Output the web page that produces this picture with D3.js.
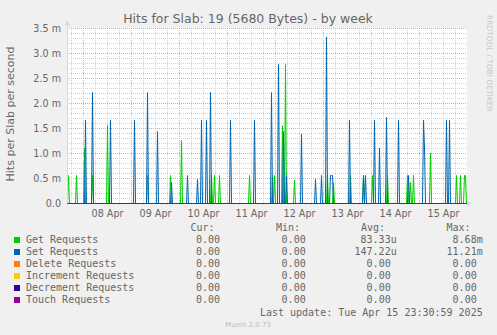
<!DOCTYPE html>
<html>
<head>
<meta charset="utf-8">
<script src="https://cdn.jsdelivr.net/npm/d3@7"></script>
<style>
  body { margin: 0; background: #F0F0F0; }
  svg { display: block; }
</style>
</head>
<body>
<div id="chart"></div>
<script>
// Canvas size
var svgWidth = 497;
var svgHeight = 335;

// plot area (munin/rrdtool layout)
var plot = { left: 67, right: 467, top: 28, bottom: 203 };

// Spikes: [time, value in m (milli) hits/s]
var getSpikes = [
  ["2025-04-07 16:30", 0.56], ["2025-04-07 20:30", 0.56], ["2025-04-08 00:30", 1.11],
  ["2025-04-08 04:30", 0.56], ["2025-04-08 12:00", 1.56], ["2025-04-09 08:00", 0.56],
  ["2025-04-09 19:30", 0.56], ["2025-04-10 01:00", 1.26], ["2025-04-10 16:00", 0.56],
  ["2025-04-10 17:30", 0.56], ["2025-04-10 20:00", 0.56], ["2025-04-11 11:00", 0.56],
  ["2025-04-11 22:30", 0.56], ["2025-04-11 23:30", 0.56], ["2025-04-12 03:30", 1.56],
  ["2025-04-12 05:00", 2.78], ["2025-04-12 09:30", 0.47], ["2025-04-13 02:00", 0.56],
  ["2025-04-13 05:00", 0.42], ["2025-04-13 13:30", 0.56], ["2025-04-13 20:00", 0.56],
  ["2025-04-14 00:30", 0.56], ["2025-04-14 08:00", 0.56], ["2025-04-14 18:00", 0.56],
  ["2025-04-14 19:30", 0.42], ["2025-04-14 21:00", 0.56], ["2025-04-15 05:30", 1.01],
  ["2025-04-15 18:30", 0.56], ["2025-04-15 20:30", 0.56], ["2025-04-15 22:30", 0.56],
  ["2025-04-15 23:00", 0.56]
];

var setSpikes = [
  ["2025-04-08 01:00", 1.67], ["2025-04-08 04:30", 2.22], ["2025-04-08 13:30", 1.67],
  ["2025-04-09 01:30", 1.67], ["2025-04-09 08:00", 2.22], ["2025-04-09 13:00", 1.44],
  ["2025-04-09 20:00", 0.42], ["2025-04-10 04:00", 0.56], ["2025-04-10 09:00", 0.48],
  ["2025-04-10 11:00", 1.67], ["2025-04-10 13:30", 1.67], ["2025-04-10 15:30", 2.22],
  ["2025-04-11 01:30", 1.67], ["2025-04-11 13:30", 1.67], ["2025-04-11 22:00", 2.22],
  ["2025-04-12 01:30", 2.78], ["2025-04-12 04:00", 1.44], ["2025-04-12 05:30", 0.56],
  ["2025-04-12 13:00", 1.39], ["2025-04-12 20:00", 0.48], ["2025-04-12 23:00", 0.56],
  ["2025-04-13 01:30", 3.33], ["2025-04-13 03:30", 0.56], ["2025-04-13 04:00", 0.56],
  ["2025-04-13 04:30", 0.56], ["2025-04-13 13:00", 1.67], ["2025-04-13 20:00", 0.56],
  ["2025-04-13 21:00", 0.56], ["2025-04-14 01:30", 1.67], ["2025-04-14 04:00", 1.11],
  ["2025-04-14 07:30", 1.72], ["2025-04-14 13:30", 1.67], ["2025-04-14 18:30", 0.56],
  ["2025-04-15 02:00", 1.67], ["2025-04-15 02:30", 1.11], ["2025-04-15 13:30", 1.67],
  ["2025-04-15 15:00", 1.67]
];

var seriesNames = ["Get Requests", "Set Requests", "Delete Requests", "Increment Requests", "Decrement Requests", "Touch Requests"];
var seriesColors = ["#00CC00", "#0066B3", "#FF8000", "#FFCC00", "#330099", "#990099"];
var curValues = ["0.00", "0.00", "0.00", "0.00", "0.00", "0.00"];
var minValues = ["0.00", "0.00", "0.00", "0.00", "0.00", "0.00"];
var avgValues = ["83.33u", "147.22u", "0.00", "0.00", "0.00", "0.00"];
var maxValues = ["8.68m", "11.21m", "0.00", "0.00", "0.00", "0.00"];

var yTicks = [0, 0.5, 1.0, 1.5, 2.0, 2.5, 3.0, 3.5];
var titleText = "Hits for Slab: 19 (5680 Bytes) - by week";
var yLabel = "Hits per Slab per second";
var lastUpdate = "Last update: Tue Apr 15 23:30:59 2025";

var parseTime = d3.utcParse("%Y-%m-%d %H:%M");
var startTime = parseTime("2025-04-07 16:00");
var endTime = parseTime("2025-04-16 00:00");

// 30 minute slots, zero where no spike was seen
var slots = d3.utcMinute.every(30).range(startTime, d3.utcMinute.offset(endTime, 1));
function buildSeries(spikes) {
  var lookup = new Map(spikes.map(d => [+parseTime(d[0]), d[1]]));
  return slots.map(t => [t, lookup.has(+t) ? lookup.get(+t) : 0]);
}
var seriesData = [buildSeries(getSpikes), buildSeries(setSpikes),
  buildSeries([]), buildSeries([]), buildSeries([]), buildSeries([])];

var svg = d3.select("#chart")
  .append("svg")
  .attr("width", svgWidth)
  .attr("height", svgHeight)
  .style("font-family", "DejaVu Sans, sans-serif");

svg.append("rect").attr("width", svgWidth).attr("height", svgHeight).attr("fill", "#F0F0F0");
svg.append("rect")
  .attr("x", plot.left).attr("y", plot.top)
  .attr("width", plot.right - plot.left).attr("height", plot.bottom - plot.top)
  .attr("fill", "#FFFFFF");

var xScale = d3.scaleUtc()
  .domain([startTime, endTime])
  .range([plot.left + 0.5, plot.right + 0.5]);

var yScale = d3.scaleLinear()
  .domain([0, 3.5])
  .range([plot.bottom + 0.5, plot.top + 0.5]);

// minor grid
var grid = svg.append("g");
d3.utcHour.every(6).range(startTime, endTime).forEach(function(t) {
  if (+t === +startTime) return;
  var major = t.getUTCHours() === 0;
  grid.append("line")
    .attr("x1", xScale(t)).attr("x2", xScale(t))
    .attr("y1", plot.top).attr("y2", plot.bottom)
    .attr("stroke", major ? "#F0A0A0" : "#D0D0D0")
    .attr("stroke-dasharray", "1,1");
});
d3.range(1, 36).forEach(function(i) {
  var v = i / 10;
  var major = i % 5 === 0;
  grid.append("line")
    .attr("x1", plot.left).attr("x2", plot.right)
    .attr("y1", yScale(v)).attr("y2", yScale(v))
    .attr("stroke", major ? "#F0A0A0" : "#D0D0D0")
    .attr("stroke-dasharray", "1,1");
});

// y tick labels
svg.append("g").selectAll("text")
  .data(yTicks)
  .enter()
  .append("text")
  .attr("x", 61)
  .attr("y", d => yScale(d))
  .attr("dy", "0.35em")
  .attr("text-anchor", "end")
  .attr("font-size", 9.6)
  .attr("fill", "#666666")
  .text(d => d === 0 ? "0.0" : d3.format(".1f")(d) + " m");

// x tick labels at noon
svg.append("g").selectAll("text")
  .data(d3.utcDay.range(parseTime("2025-04-08 00:00"), endTime))
  .enter()
  .append("text")
  .attr("x", d => xScale(d3.utcHour.offset(d, 12)))
  .attr("y", 216.5)
  .attr("text-anchor", "middle")
  .attr("font-size", 9.6)
  .attr("fill", "#666666")
  .text(d => d3.utcFormat("%d %b")(d));

// series lines
var line = d3.line()
  .x(d => xScale(d[0]))
  .y(d => yScale(d[1]));

svg.append("g").selectAll("path")
  .data(seriesData)
  .enter()
  .append("path")
  .attr("d", line)
  .attr("fill", "none")
  .attr("stroke", (d, i) => seriesColors[i])
  .attr("stroke-width", 1);

// axes + arrows
svg.append("line")
  .attr("x1", plot.left + 0.5).attr("x2", plot.left + 0.5)
  .attr("y1", plot.bottom).attr("y2", 22)
  .attr("stroke", "#CFD6F8");
svg.append("path")
  .attr("d", `M${plot.left - 2},25 L${plot.left + 0.5},20 L${plot.left + 3},25 Z`)
  .attr("fill", "#CFD6F8");
svg.append("path")
  .attr("d", `M${plot.right},${plot.bottom - 2} L${plot.right + 5},${plot.bottom + 0.5} L${plot.right},${plot.bottom + 3} Z`)
  .attr("fill", "#CFD6F8");

// title
svg.append("text")
  .attr("x", 248)
  .attr("y", 22.5)
  .attr("text-anchor", "middle")
  .attr("font-size", 12.5)
  .attr("fill", "#666666")
  .text(titleText);

// y axis label
svg.append("text")
  .attr("transform", "rotate(-90)")
  .attr("x", -114)
  .attr("y", 13.5)
  .attr("text-anchor", "middle")
  .attr("font-size", 11)
  .attr("fill", "#666666")
  .text(yLabel);

// rrdtool watermark
svg.append("text")
  .attr("transform", "translate(487,15) rotate(90)")
  .attr("font-size", 7.5)
  .attr("fill", "#C8C8C8")
  .text("RRDTOOL / TOBI OETIKER");

// legend
var legend = svg.append("g")
  .attr("font-family", "DejaVu Sans Mono, monospace")
  .attr("font-size", 10)
  .attr("fill", "#666666");

[["Cur:", 190.5], ["Min:", 276], ["Avg:", 361], ["Max:", 446.5]].forEach(function(h) {
  legend.append("text").attr("x", h[1]).attr("y", 231.3).text(h[0]);
});

function valueEnd(str, edge) {
  // rrdtool keeps a blank where the unit would be
  return /[a-zA-Z]$/.test(str) ? edge : edge - 6;
}

seriesNames.forEach(function(name, i) {
  var y = 243.3 + i * 12;
  legend.append("rect")
    .attr("x", 14).attr("y", y - 6.3)
    .attr("width", 6).attr("height", 6)
    .attr("fill", seriesColors[i]);
  legend.append("text").attr("x", 26).attr("y", y).text(name);
  legend.append("text").attr("x", 220).attr("y", y).attr("text-anchor", "end").text(curValues[i]);
  legend.append("text").attr("x", 305.7).attr("y", y).attr("text-anchor", "end").text(minValues[i]);
  legend.append("text").attr("x", valueEnd(avgValues[i], 396.7)).attr("y", y).attr("text-anchor", "end").text(avgValues[i]);
  legend.append("text").attr("x", valueEnd(maxValues[i], 482.7)).attr("y", y).attr("text-anchor", "end").text(maxValues[i]);
});

legend.append("text")
  .attr("x", 482.7).attr("y", 315.5)
  .attr("text-anchor", "end")
  .text(lastUpdate);

svg.append("text")
  .attr("x", 248).attr("y", 327)
  .attr("text-anchor", "middle")
  .attr("font-size", 7)
  .attr("fill", "#BBBBBB")
  .text("Munin 2.0.73");
</script>
</body>
</html>
